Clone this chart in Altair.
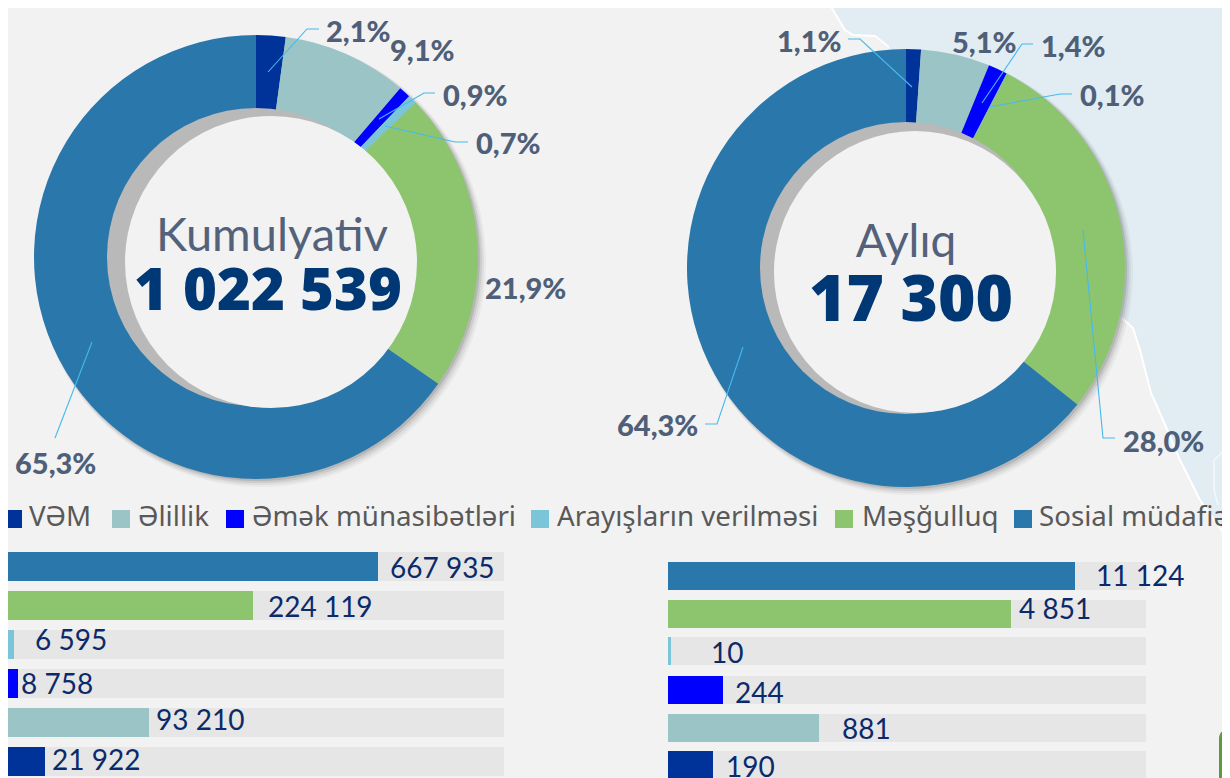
import altair as alt
import pandas as pd

# ---- values ----
categories = ["VƏM", "Əlillik", "Əmək münasibətləri", "Arayışların verilməsi", "Məşğulluq", "Sosial müdafiə"]
colors = ["#003399", "#9ac4c6", "#0000ff", "#7ac5d8", "#8dc56f", "#2a77ab"]
kum_values = [21922, 93210, 8758, 6595, 224119, 667935]
ayl_values = [190, 881, 244, 10, 4851, 11124]
kum_pct = ["2,1%", "9,1%", "0,9%", "0,7%", "21,9%", "65,3%"]
ayl_pct = ["1,1%", "5,1%", "1,4%", "0,1%", "28,0%", "64,3%"]
kum_lbl = ["21 922", "93 210", "8 758", "6 595", "224 119", "667 935"]
ayl_lbl = ["190", "881", "244", "10", "4 851", "11 124"]

# layout (page pixels)
kum_pct_xy = [(326, 33), (390, 52), (443, 97), (476, 145), (485, 290), (15, 465)]
ayl_pct_xy = [(777, 43), (952, 44), (1041, 48), (1080, 97), (1123, 443), (617, 427)]
kum_row_top = [747, 708, 669, 630, 591, 552]
ayl_row_top = [751, 714, 676, 637, 600, 562]
kum_lbl_xy = [(52, 762), (156, 722), (21, 686), (35, 642), (268, 609), (390, 570)]
ayl_lbl_xy = [(726, 769), (842, 731), (735, 695), (711, 655), (1019, 611), (1096, 578)]
legend_sq_x = [4, 112, 226, 531, 835, 1014]
legend_tx_x = [29, 138, 252, 557, 862, 1039]
leaders = [
    [(268, 72), (307, 29), (319, 29)],
    [(379, 119), (424, 93), (435, 93)],
    [(385, 126), (455, 142), (468, 142)],
    [(92, 342), (55, 438)],
    [(912, 87), (860, 39), (848, 39)],
    [(982, 103), (1022, 44), (1033, 44)],
    [(989, 107), (1060, 94), (1072, 94)],
    [(1083, 230), (1103, 438), (1115, 438)],
    [(743, 347), (717, 424), (705, 424)],
]
coast_x = [827, 845, 853, 875, 889, 1122, 1133, 1140, 1151, 1163, 1180, 1200, 1207, 1225, 1230]
coast_y = [0, 30, 35, 36, 47, 318, 328, 350, 393, 420, 460, 500, 510, 535, 560]
inner_x = [1230, 1214, 1214, 1218]
inner_y = [445, 460, 490, 505]

W, H = 1214, 770
px = alt.Scale(domain=[8, 1222], range=[0, W], zero=False, nice=False)
py = alt.Scale(domain=[8, 778], range=[0, H], zero=False, nice=False)
X = lambda f: alt.X(f, type="quantitative", scale=px, axis=None)
Y = lambda f: alt.Y(f, type="quantitative", scale=py, axis=None)
FULL = 6.2832

layers = []

# map background
coast = pd.DataFrame({"x": coast_x, "y": coast_y, "top": 0})
layers.append(alt.Chart(coast).mark_area(color="#e1edf3").encode(x=X("x"), y=Y("y"), y2="top"))
layers.append(alt.Chart(coast.iloc[5:]).mark_line(color="#ffffff", strokeWidth=2).encode(x=X("x"), y=Y("y")))
layers.append(alt.Chart(coast.iloc[:5]).mark_line(color="#ffffff", strokeWidth=2).encode(x=X("x"), y=Y("y")))
inner = pd.DataFrame({"x": inner_x, "y": inner_y, "o": range(len(inner_x))})
layers.append(alt.Chart(inner).mark_line(color="#f4f8fa", strokeWidth=1.5).encode(x=X("x"), y=Y("y"), order="o:Q"))


def disc(cx, cy, r, color, opacity=1.0):
    d = pd.DataFrame({"cx": [cx], "cy": [cy]})
    return alt.Chart(d).mark_arc(radius=r, radius2=0, theta=0, theta2=FULL, color=color, opacity=opacity).encode(
        x=X("cx"), y=Y("cy"))


def donut(cx, cy, R, r, values, hole_c, hole_r):
    out = []
    for off, extra, op in [(5, 3, 0.05), (4, 2, 0.08), (3, 1, 0.12), (2, 0, 0.18)]:
        out.append(disc(cx + off, cy + off, R + extra, "#555555", op))
    d = pd.DataFrame({"v": values, "i": range(6), "c": colors, "cx": cx, "cy": cy})
    out.append(alt.Chart(d).mark_arc(radius=R, radius2=r).encode(
        theta=alt.Theta("v:Q", stack=True),
        order=alt.Order("i:Q"),
        color=alt.Color("c:N", scale=None),
        x=X("cx"), y=Y("cy")))
    out.append(disc(cx, cy, r + 1, "#b9b9b9"))
    out.append(disc(hole_c[0], hole_c[1], hole_r, "#f2f2f2"))
    return out


layers += donut(256, 257, 222, 148, kum_values, (271, 262), 146)
layers += donut(906, 268, 219, 145, ayl_values, (915, 272), 141)

# leader lines
for i, pts in enumerate(leaders):
    d = pd.DataFrame({"x": [p[0] for p in pts], "y": [p[1] for p in pts], "o": range(len(pts))})
    layers.append(alt.Chart(d).mark_line(color="#45b9f0", strokeWidth=1.1).encode(
        x=X("x"), y=Y("y"), order="o:Q"))


def text_layer(labels, xy, size, color, font="Lato", weight="bold", align="left"):
    d = pd.DataFrame({"t": labels, "x": [p[0] for p in xy], "y": [p[1] for p in xy]})
    return alt.Chart(d).mark_text(align=align, baseline="middle", font=font, fontSize=size,
                                  fontWeight=weight, color=color).encode(x=X("x"), y=Y("y"), text="t:N")


layers.append(text_layer(kum_pct, kum_pct_xy, 29, "#4f5f78", weight=900))
layers.append(text_layer(ayl_pct, ayl_pct_xy, 29, "#4f5f78", weight=900))

# centre texts
layers.append(text_layer(["Kumulyativ"], [(272, 237)], 47, "#53627a", weight="normal", align="center"))
layers.append(text_layer(["Aylıq"], [(906, 243)], 46, "#53627a", weight="normal", align="center"))
layers.append(text_layer(["1 022 539"], [(268, 293)], 58, "#003876", font="Noto Sans", weight=900, align="center"))
layers.append(text_layer(["17 300"], [(911, 302)], 64, "#003876", font="Noto Sans", weight=900, align="center"))

# legend
leg = pd.DataFrame({"x": [v + 9 for v in legend_sq_x], "y": 519, "c": colors})
layers.append(alt.Chart(leg).mark_square(size=324, opacity=1).encode(
    x=X("x"), y=Y("y"), color=alt.Color("c:N", scale=None)))
layers.append(text_layer(categories, [(v, 518) for v in legend_tx_x], 27.7, "#595959",
                         font="Noto Sans", weight="normal"))


# bars: piecewise value scales, since the source bars are not drawn proportionally
def bars(values, tops, height, domain, rng, total):
    sx = alt.Scale(domain=domain, range=[v - 8 for v in rng], zero=False, nice=False)
    d = pd.DataFrame({"v": values, "zero": 0, "total": total, "top": tops,
                      "bot": [t + height for t in tops], "c": colors})
    track = alt.Chart(d).mark_rect(color="#e6e6e6").encode(
        x=alt.X("zero:Q", scale=sx, axis=None), x2="total:Q", y=Y("top"), y2="bot:Q")
    bar = alt.Chart(d).mark_rect().encode(
        x=alt.X("zero:Q", scale=sx, axis=None), x2="v:Q", y=Y("top"), y2="bot:Q",
        color=alt.Color("c:N", scale=None))
    return [track, bar]


layers += bars(kum_values, kum_row_top, 29,
               [0, 6595, 8758, 21922, 93210, 224119, 667935, 1022539],
               [-10, 14, 18, 45, 149, 253, 378, 504], 1022539)
layers += bars(ayl_values, ayl_row_top, 28,
               [0, 10, 190, 244, 881, 4851, 11124, 17300],
               [668, 671, 713, 723, 819, 1011, 1075, 1146], 17300)
layers.append(text_layer(kum_lbl, kum_lbl_xy, 28, "#0b2a6a", weight="normal"))
layers.append(text_layer(ayl_lbl, ayl_lbl_xy, 28, "#0b2a6a", weight="normal"))

# green corner shape
corner = pd.DataFrame({"x": [1219], "x2": [1240], "y": [728], "y2": [778]})
layers.append(alt.Chart(corner).mark_rect(color="#5f9a3f", cornerRadiusTopLeft=14).encode(
    x=X("x"), x2="x2:Q", y=Y("y"), y2="y2:Q"))

chart = alt.layer(*layers).resolve_scale(theta="independent", x="independent", y="independent").properties(
    width=W, height=H, padding=0, background="#f2f2f2",
    autosize=alt.AutoSizeParams(type="none"),
).configure_view(stroke=None)

chart.save("out.html", embed_options={"renderer": "svg", "actions": False})
